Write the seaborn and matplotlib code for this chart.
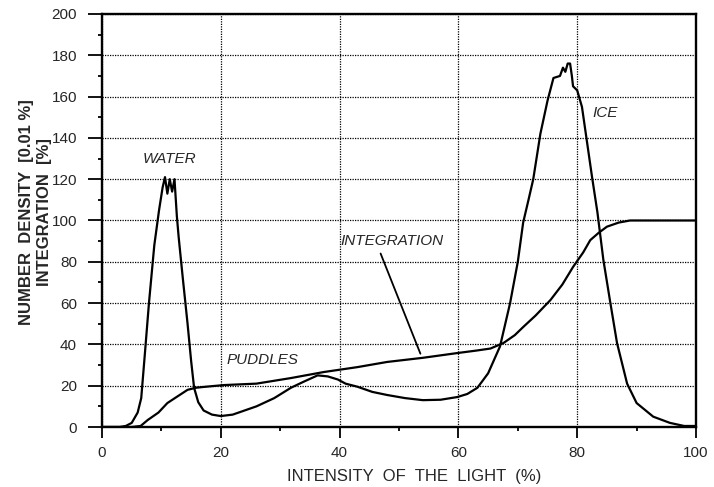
import numpy as np
import pandas as pd
import matplotlib.pyplot as plt
import seaborn as sns

# Number density curve
density_x = [0, 3, 4, 5, 6, 6.6, 7.2, 7.9, 8.8, 9.6, 10.2, 10.6, 11.0, 11.4, 11.8, 12.2, 12.6,
             12.9, 13.6, 14.4, 15.0, 15.5, 16.2, 17.1, 18.5, 20, 22, 26, 29, 31.8, 34,
             36.3, 38, 39.7, 41, 43, 45.5, 48, 51, 54, 57, 59.8, 61.5, 63.2, 65, 67,
             68.7, 70, 70.9, 71.8, 72.6, 73.8, 75, 76, 77.1, 77.6, 78.0, 78.4, 78.8,
             79.1, 79.3, 80, 80.8, 81.7, 82.5, 83.4, 84.4, 85.5, 86.7, 88.4, 90, 92.8,
             95.6, 98, 100]
density_y = [0, 0, 0.5, 2, 7, 14, 35, 60, 88, 105, 116, 121, 113, 120, 114, 120, 102,
             92, 72, 50, 32, 19, 12, 8, 6, 5.3, 6, 10, 14, 19, 22,
             25, 24.5, 23, 21, 19.5, 17, 15.5, 14, 13, 13.2, 14.5, 16, 19, 26, 39,
             60, 80, 99, 110, 120, 142, 158, 169, 170, 174, 172, 176, 176,
             170, 165, 163, 155, 137, 121, 104, 81, 61.5, 40.7, 21, 11.6, 5,
             2, 0.5, 0.5]

# Integration curve
integ_x = [0, 5, 6.5, 7.7, 9.5, 11, 12.8, 14.4, 15.8, 17.1, 20.5, 26, 31.8, 37.3, 43,
           48, 54, 59.8, 63, 65.4, 67.6, 69.5, 70.9, 73, 75.5, 77.5, 79.3, 81, 82.2,
           83.6, 85, 87, 88.9, 92, 100]
integ_y = [0, 0, 0.5, 3.4, 7, 11.6, 15, 18, 19, 19.4, 20.3, 21, 23.7, 26.6, 29,
           31.5, 33.5, 35.8, 37, 38, 40.7, 44.5, 48.4, 54, 61.5, 69, 77.5, 84.5, 90.5,
           94, 97, 99, 100, 100, 100]

density = pd.DataFrame({"x": density_x, "y": density_y})
integ = pd.DataFrame({"x": integ_x, "y": integ_y})

sns.set_style("white")
plt.rcParams['font.family'] = ['Liberation Sans', 'DejaVu Sans']

fig = plt.figure(figsize=(7.14, 4.87), dpi=100)
ax = fig.add_axes([0.1429, 0.1232, 0.8319, 0.8481])

sns.lineplot(data=density, x="x", y="y", ax=ax, color="black", linewidth=1.6)
sns.lineplot(data=integ, x="x", y="y", ax=ax, color="black", linewidth=1.6)

ax.set_xlim(0, 100)
ax.set_ylim(0, 200)
ax.set_xticks(np.arange(0, 101, 20))
ax.set_yticks(np.arange(0, 201, 20))
ax.set_xticks(np.arange(0, 101, 10), minor=True)
ax.set_yticks(np.arange(0, 201, 10), minor=True)
ax.grid(True, which="major", color="black", linestyle=(0, (1, 1)), linewidth=0.9)
ax.tick_params(which="major", direction="out", width=1.3, color="black",
               labelsize=11, bottom=True, left=True)
ax.tick_params(axis="y", which="major", length=10, pad=8)
ax.tick_params(axis="x", which="major", length=8, pad=6)
ax.tick_params(which="minor", direction="out", length=3, width=1.3, color="black",
               bottom=True, left=True)
for s in ax.spines.values():
    s.set_color("black")
    s.set_linewidth(1.7)
    s.set_visible(True)

ax.set_xlabel("INTENSITY  OF  THE  LIGHT  (%)", fontsize=12)
ax.xaxis.set_label_coords(0.526, -0.102)
ax.set_ylabel("NUMBER  DENSITY  [0.01 %]\nINTEGRATION  [%]", fontsize=12,
              fontweight="bold", linespacing=1.2)
ax.yaxis.set_label_coords(-0.085, 0.52)

txt = dict(fontsize=11, style="italic", ha="center", va="center")
ax.text(11.3, 130, "WATER", **txt)
ax.text(27, 32.5, "PUDDLES", **txt)
ax.text(48.8, 90, "INTEGRATION", **txt)
ax.text(84.7, 152, "ICE", **txt)
ax.plot([46.9, 53.6], [84, 35.5], color="black", linewidth=1.3)

fig.savefig("out.png", dpi=100)
